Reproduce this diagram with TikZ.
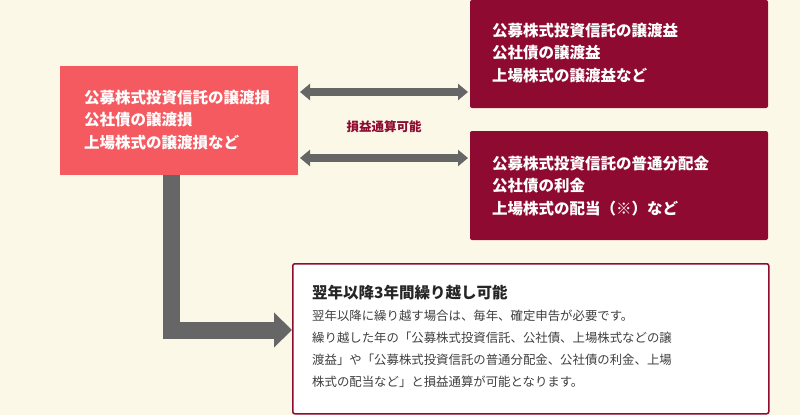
\documentclass[tikz,border=0pt]{standalone}
\usepackage{fontspec}
\newfontfamily\jp{Noto Sans CJK JP}
\usetikzlibrary{arrows.meta}
\definecolor{bg}{HTML}{FCF8E8}
\definecolor{salmon}{HTML}{F45A60}
\definecolor{wine}{HTML}{8E0A31}
\definecolor{arr}{HTML}{666666}
\tikzset{
 box/.style={anchor=north west,inner sep=0pt,outer sep=0pt,font=\jp\fontsize{15.5pt}{22.5pt}\selectfont\bfseries,text=white,align=left},
 dbl/.style={arr,line width=8pt,{Triangle[width=16pt,length=10pt]}-{Triangle[width=16pt,length=10pt]}},
}
\begin{document}
\begin{tikzpicture}[x=1pt,y=-1pt]
\fill[bg] (0,0) rectangle (800,415);
\useasboundingbox (0,0) rectangle (800,415);
\node[box,fill=salmon,minimum width=238pt,minimum height=109pt] (L) at (60,66) {};
\node[box,anchor=west] at (84,120) {公募株式投資信託の譲渡損\\公社債の譲渡損\\上場株式の譲渡損など};
\node[box,fill=wine,minimum width=298pt,minimum height=108pt,rounded corners=2pt] (R1) at (470,0) {};
\node[box,anchor=west] at (492,53) {公募株式投資信託の譲渡益\\公社債の譲渡益\\上場株式の譲渡益など};
\node[box,fill=wine,minimum width=298pt,minimum height=109pt,rounded corners=2pt] (R2) at (470,131) {};
\node[box,anchor=west] at (492,186) {公募株式投資信託の普通分配金\\公社債の利金\\上場株式の配当（※）など};
\draw[dbl] (L.east |- 0,92) ++(2,0) -- ([xshift=-2pt]R1.west |- 0,92);
\draw[dbl] (L.east |- 0,158) ++(2,0) -- ([xshift=-2pt]R2.west |- 0,158);
\node[font=\jp\fontsize{12.5pt}{14pt}\selectfont\bfseries,text=wine] (lab) at (384,127) {損益通算可能};
\node[anchor=north west,draw=wine,line width=1.5pt,fill=white,rounded corners=2pt,minimum width=476pt,minimum height=150pt,inner sep=0pt] (B) at (292,263) {};
\node[anchor=west,font=\jp\fontsize{15.5pt}{16pt}\selectfont\bfseries,text=black!85,inner sep=0pt] (T) at (312,293) {翌年以降3年間繰り越し可能};
\node[anchor=north west,font=\jp\fontsize{12.4pt}{22pt}\selectfont,text=black!75,align=left,inner sep=0pt] (body) at (312,310) {翌年以降に繰り越す場合は、毎年、確定申告が必要です。\\繰り越した年の「公募株式投資信託、公社債、上場株式などの譲\\渡益」や「公募株式投資信託の普通分配金、公社債の利金、上場\\株式の配当など」と損益通算が可能となります。};
\coordinate (c) at (171,330);
\draw[arr,line width=17pt,line join=miter,-{Triangle[width=34pt,length=18pt]}] (L.south -| c) -- (c) -- (B.west |- c);
\end{tikzpicture}
\end{document}
